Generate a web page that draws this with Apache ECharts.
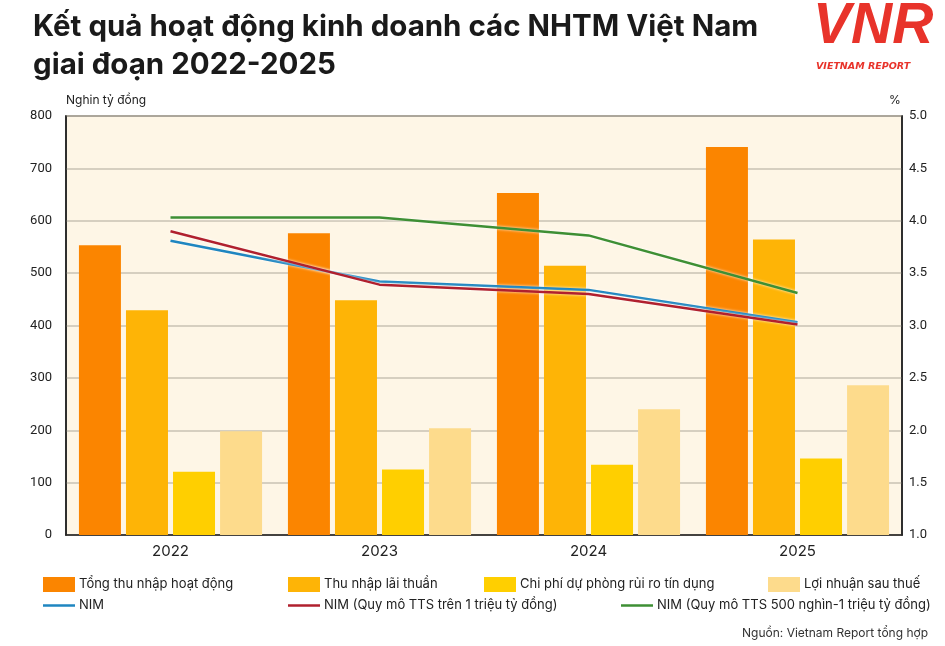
<!DOCTYPE html>
<html>
<head>
<meta charset="utf-8">
<script src="https://cdn.jsdelivr.net/npm/echarts@6/dist/echarts.min.js"></script>
<style>
  html, body { margin: 0; padding: 0; background: #fff; }
  #chart { width: 945px; height: 646px; }
</style>
</head>
<body>
<div id="chart"></div>
<script>
// dữ liệu
const years = ['2022', '2023', '2024', '2025']
const tongThuNhap = [553, 576, 653, 741]
const thuNhapLai = [429, 448, 514, 564]
const chiPhiDuPhong = [121, 125, 134, 146]
const loiNhuan = [198, 204, 240, 286]
const nim = [3.81, 3.42, 3.34, 3.03]
const nimTren1Trieu = [3.90, 3.39, 3.30, 3.01]
const nim500Nghin = [4.03, 4.03, 3.86, 3.31]

const barNames = ['Tổng thu nhập hoạt động', 'Thu nhập lãi thuần', 'Chi phí dự phòng rủi ro tín dụng', 'Lợi nhuận sau thuế']
const lineNames = ['NIM', 'NIM (Quy mô TTS trên 1 triệu tỷ đồng)', 'NIM (Quy mô TTS 500 nghìn-1 triệu tỷ đồng)']
const barColors = ['#fb8500', '#feb406', '#ffcf00', '#fddb8c']
const lineColors = ['#1f86c0', '#b0202e', '#3e8f34']

const chart = echarts.init(document.getElementById('chart'))

const axisFont = '"Liberation Sans Narrow", "Roboto", sans-serif'
const textFont = 'Inter, "Noto Sans", sans-serif'

// mỗi mục chú thích đặt riêng một legend
const legendPos = [
  { name: barNames[0], left: 43, top: 577, h: 15 },
  { name: barNames[1], left: 288, top: 577, h: 15 },
  { name: barNames[2], left: 484, top: 577, h: 15 },
  { name: barNames[3], left: 768, top: 577, h: 15 },
  { name: lineNames[0], left: 43, top: 599, h: 2.5 },
  { name: lineNames[1], left: 288, top: 599, h: 2.5 },
  { name: lineNames[2], left: 621, top: 599, h: 2.5 }
]

const barSeries = barNames.map((name, i) => ({
  name,
  type: 'bar',
  barWidth: 42,
  barGap: '12%',
  itemStyle: { color: barColors[i] },
  data: [tongThuNhap, thuNhapLai, chiPhiDuPhong, loiNhuan][i]
}))

const lineSeries = lineNames.map((name, i) => ({
  name,
  type: 'line',
  yAxisIndex: 1,
  symbol: 'none',
  lineStyle: { width: 2.5, color: lineColors[i], shadowColor: 'rgba(255,255,255,0.9)', shadowBlur: 3 },
  itemStyle: { color: lineColors[i] },
  data: [nim, nimTren1Trieu, nim500Nghin][i]
}))

chart.setOption({
  animation: false,
  backgroundColor: '#fff',
  title: [
    {
      text: 'Kết quả hoạt động kinh doanh các NHTM Việt Nam\ngiai đoạn 2022-2025',
      left: 28, top: 3,
      textStyle: { fontFamily: textFont, fontSize: 29.5, fontWeight: 'bold', color: '#1a1a1a', lineHeight: 38 }
    }
  ],
  graphic: [
    { type: 'text', left: 813, top: -1, style: { text: 'VNR', fill: '#e8332a', font: 'italic bold 57px "Liberation Sans Narrow", sans-serif' } },
    { type: 'text', left: 816, top: 62, style: { text: 'VIETNAM REPORT', fill: '#e8332a', font: 'italic bold 9.5px "DejaVu Sans", sans-serif' } },
    { type: 'text', left: 66, top: 94, style: { text: 'Nghin tỷ đồng', fill: '#222', font: '12px ' + textFont } },
    { type: 'text', left: 889, top: 94, style: { text: '%', fill: '#222', font: '12px ' + textFont } },
    { type: 'text', right: 17, top: 627, style: { text: 'Nguồn: Vietnam Report tổng hợp', fill: '#333', font: '12px ' + textFont } }
  ],
  legend: legendPos.map(p => ({
    data: [{ name: p.name, icon: 'rect' }],
    left: p.left, top: p.top,
    padding: 0,
    itemWidth: 32, itemHeight: p.h,
    textStyle: { fontFamily: textFont, fontSize: 13, color: '#222', padding: [0, 0, 0, -1] }
  })),
  grid: {
    left: 66, right: 43, top: 116, bottom: 111,
    show: true, backgroundColor: '#fef6e6', borderColor: '#222', borderWidth: 1.5
  },
  xAxis: {
    type: 'category',
    data: years,
    axisTick: { show: false },
    axisLine: { lineStyle: { color: '#222', width: 1.5 } },
    axisLabel: { fontFamily: textFont, fontSize: 15, color: '#222', margin: 9 }
  },
  yAxis: [
    {
      type: 'value', min: 0, max: 800, interval: 100,
      axisLine: { show: true, lineStyle: { color: '#222', width: 1.5 } },
      axisTick: { show: false },
      axisLabel: { fontFamily: axisFont, fontSize: 13, color: '#222', margin: 14 },
      splitLine: { lineStyle: { color: '#c9c2b3', width: 1.5 } }
    },
    {
      type: 'value', min: 1, max: 5, interval: 0.5,
      axisLine: { show: true, lineStyle: { color: '#222', width: 1.5 } },
      axisTick: { show: false },
      axisLabel: { fontFamily: axisFont, fontSize: 13, color: '#222', margin: 7, formatter: v => v.toFixed(1) },
      splitLine: { show: false }
    }
  ],
  series: [...barSeries, ...lineSeries]
})
</script>
</body>
</html>
